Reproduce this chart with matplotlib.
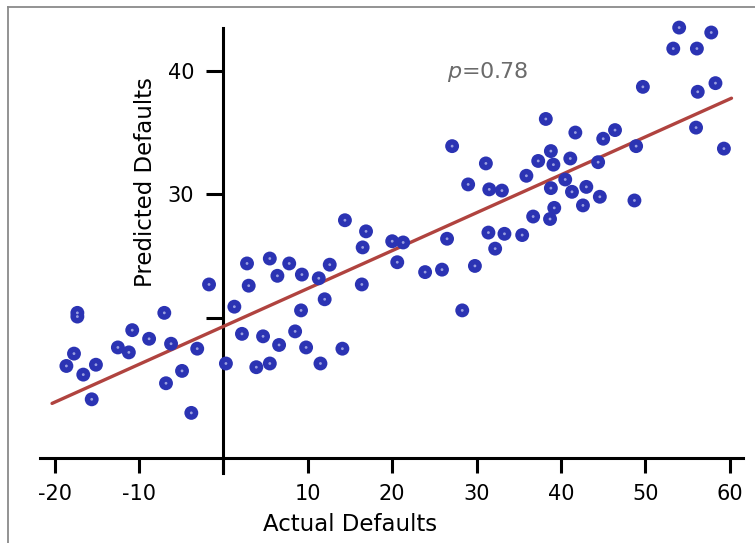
import matplotlib
matplotlib.use('Agg')
import matplotlib.pyplot as plt
from matplotlib.lines import Line2D

# ---- data ----
actual = [-18.6, -17.3, -17.3, -17.7, -16.6, -15.6, -15.1, -12.5, -11.2, -10.8,
          -8.8, -7.0, -6.2, -6.8, -4.9, -3.1, -3.8, -1.7, 0.3, 1.3,
          2.2, 2.8, 3.0, 3.9, 4.7, 5.5, 5.5, 6.4, 6.6, 7.8,
          8.5, 9.3, 9.2, 9.8, 11.3, 11.5, 12.0, 12.6, 14.1, 14.4,
          16.4, 16.5, 16.9, 20.0, 21.3, 20.6, 23.9, 25.9, 26.5, 28.3,
          27.1, 29.0, 29.8, 31.1, 31.5, 33.0, 31.4, 33.3, 32.2, 35.4,
          35.9, 36.7, 38.2, 37.3, 38.8, 39.1, 38.8, 39.2, 38.7, 40.5,
          41.1, 41.7, 41.3, 43.0, 42.6, 44.4, 44.6, 45.0, 46.4, 48.9,
          48.7, 49.7, 54.0, 57.8, 53.3, 56.1, 56.2, 58.3, 56.0, 59.3]
predicted = [16.1, 20.4, 20.1, 17.1, 15.4, 13.4, 16.2, 17.6, 17.2, 19.0,
             18.3, 20.4, 17.9, 14.7, 15.7, 17.5, 12.3, 22.7, 16.3, 20.9,
             18.7, 24.4, 22.6, 16.0, 18.5, 24.8, 16.3, 23.4, 17.8, 24.4,
             18.9, 23.5, 20.6, 17.6, 23.2, 16.3, 21.5, 24.3, 17.5, 27.9,
             22.7, 25.7, 27.0, 26.2, 26.1, 24.5, 23.7, 23.9, 26.4, 20.6,
             33.9, 30.8, 24.2, 32.5, 30.4, 30.3, 26.9, 26.8, 25.6, 26.7,
             31.5, 28.2, 36.1, 32.7, 33.5, 32.4, 30.5, 28.9, 28.0, 31.2,
             32.9, 35.0, 30.2, 30.6, 29.1, 32.6, 29.8, 34.5, 35.2, 33.9,
             29.5, 38.7, 43.5, 43.1, 41.8, 41.8, 38.3, 39.0, 35.4, 33.7]

x_ticks = [-20, -10, 0, 10, 20, 30, 40, 50, 60]
x_tick_labels = ['-20', '-10', '', '10', '20', '30', '40', '50', '60']
y_ticks = [20, 30, 40]
y_tick_labels = ['', '30', '40']

fit_intercept = 19.3
fit_slope = 0.307
fit_x = [-20.3, 60.2]
corr_label = r'$p$=0.78'

# ---- figure ----
fig = plt.figure(figsize=(7.55, 5.43), dpi=100)
ax = fig.add_axes([0.04993, 0.11906, 0.93907, 0.86427])
ax.set_xlim(-22, 62)
ax.set_ylim(7, 45)

fit_y = [fit_intercept + fit_slope * v for v in fit_x]
ax.plot(fit_x, fit_y, color='#b0433f', lw=2.4, zorder=3, solid_capstyle='round')

ax.scatter(actual, predicted, s=100, color='#2b33b3', edgecolors='none', zorder=4)
ax.scatter(actual, predicted, s=4, color='#9a9fe0', edgecolors='none', zorder=5)

for s in ['top', 'right']:
    ax.spines[s].set_visible(False)
ax.spines['left'].set_position(('data', 0))
ax.spines['bottom'].set_position(('data', 8.65))
ax.spines['left'].set_bounds(7.4, 43.5)
ax.spines['bottom'].set_bounds(-21.7, 61.6)
for s in ['left', 'bottom']:
    ax.spines[s].set_linewidth(2.2)
    ax.spines[s].set_color('black')

ax.set_xticks(x_ticks)
ax.set_xticklabels(x_tick_labels)
ax.set_yticks(y_ticks)
ax.set_yticklabels(y_tick_labels)
ax.tick_params(axis='x', direction='out', length=10.5, width=2.2, labelsize=15, pad=8)
ax.tick_params(axis='y', direction='out', length=12, width=2.2, labelsize=15, pad=9)

ax.set_xlabel('Actual Defaults', fontsize=16.5)
ax.xaxis.label.set_va('center')
ax.xaxis.set_label_coords(0.4405, -0.0973)
ax.set_ylabel('Predicted Defaults', fontsize=16.5)
ax.yaxis.label.set_va('center')
ax.yaxis.set_label_coords(0.1527, 0.6315)

ax.text(26.5, 39.9, corr_label, fontsize=16, color='#6b6b6b', ha='left', va='center')

# outer frame (top and left)
fig.add_artist(Line2D([8 / 755, 1], [1 - 7 / 543, 1 - 7 / 543], transform=fig.transFigure,
                      color='#8a8a8a', lw=1.3))
fig.add_artist(Line2D([8 / 755, 8 / 755], [0, 1 - 7 / 543], transform=fig.transFigure,
                      color='#8a8a8a', lw=1.3))

fig.savefig('out.png', dpi=100)
